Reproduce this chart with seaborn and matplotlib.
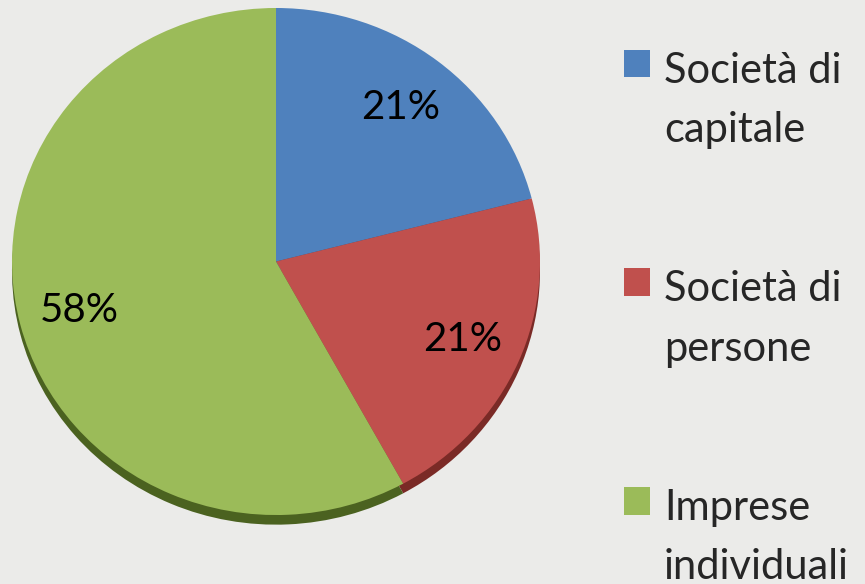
import matplotlib
matplotlib.use("Agg")
import matplotlib.pyplot as plt
import seaborn as sns
from matplotlib.patches import Rectangle, Patch
from matplotlib.legend_handler import HandlerPatch

# Data
categories = ["Società di\ncapitale", "Società di\npersone", "Imprese\nindividuali"]
shares = [21, 21, 58]
colors = ["#4f81bd", "#c0504d", "#9bbb59"]
rim_colors = ["#2f5482", "#7a2a26", "#4b6220"]

sns.set_theme(style="white")
plt.rcParams["font.family"] = ["Lato", "DejaVu Sans"]

bg = "#ebebe9"
fig = plt.figure(figsize=(8.65, 5.84), dpi=100, facecolor=bg)

# pie axes (aspect auto -> slightly flattened like the original)
ax = fig.add_axes([12 / 865, 56.3 / 584, 528 / 865, 519.7 / 584])
ax.set_facecolor(bg)

# darker copy a bit lower gives the 3D rim at the bottom
ax.pie(
    shares,
    colors=sns.color_palette(rim_colors),
    startangle=90,
    counterclock=False,
    center=(0, -0.038),
    wedgeprops=dict(linewidth=0),
)
wedges, texts, autotexts = ax.pie(
    shares,
    colors=sns.color_palette(colors),
    startangle=90,
    counterclock=False,
    autopct="%1.0f%%",
    pctdistance=0.77,
    wedgeprops=dict(linewidth=0),
    textprops=dict(fontsize=29, color="black"),
)
ax.set_aspect("auto")
ax.set_xlim(-1, 1)
ax.set_ylim(-1.05, 1)
ax.axis("off")


class TopSquare(HandlerPatch):
    # put the square next to the first text line
    def create_artists(self, legend, orig_handle, xdescent, ydescent,
                       width, height, fontsize, trans):
        p = Rectangle((-xdescent, -ydescent + 0.9 * fontsize), width, height,
                      facecolor=orig_handle.get_facecolor(), edgecolor="none",
                      transform=trans)
        return [p]


handles = [Patch(facecolor=c) for c in colors]
leg = fig.legend(
    handles, categories,
    loc="upper left",
    bbox_to_anchor=(586 / 865, 1 - 14 / 584),
    frameon=False,
    fontsize=30,
    handlelength=0.64,
    handleheight=0.64,
    handletextpad=0.33,
    labelspacing=2.9,
    handler_map={Patch: TopSquare()},
)
for t in leg.get_texts():
    t.set_linespacing(1.7)

fig.savefig("out.png", dpi=100, facecolor=bg)
